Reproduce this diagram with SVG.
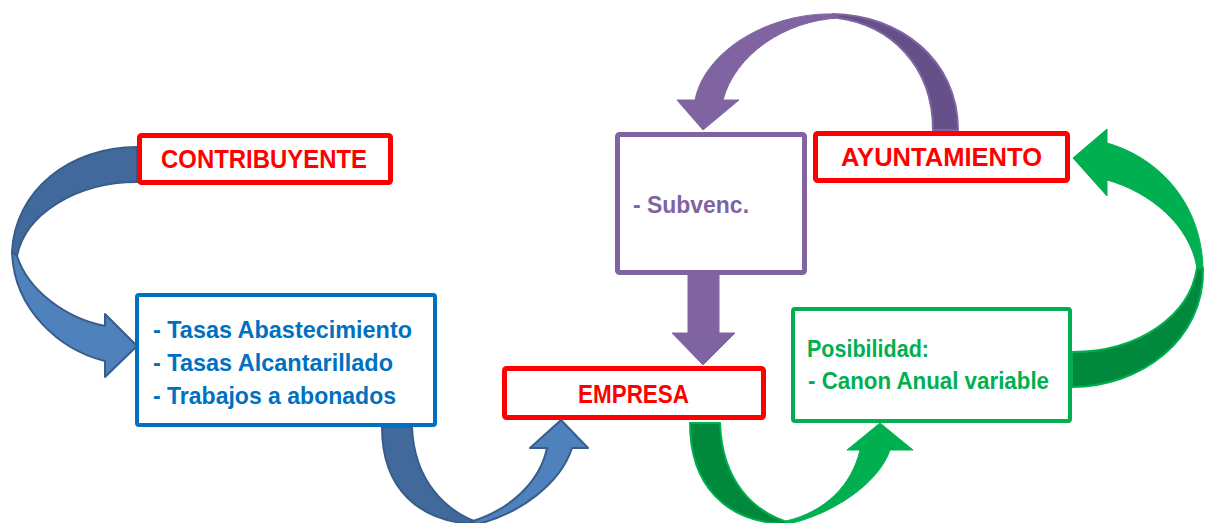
<svg xmlns="http://www.w3.org/2000/svg" width="1205" height="523" viewBox="0 0 1205 523">
<style>
text{font-family:"Liberation Sans",Arial,sans-serif;font-weight:bold}
.red{fill:#fff;stroke:#FF0000;stroke-width:5}
.rt{fill:#FF0000;font-size:26px}
.bluebox{fill:#fff;stroke:#0070C0;stroke-width:4}
.bt{fill:#0070C0;font-size:24px}
.purbox{fill:#fff;stroke:#8064A2;stroke-width:5}
.pt{fill:#8064A2;font-size:24px}
.grnbox{fill:#fff;stroke:#00B050;stroke-width:4}
.gt{fill:#00B050;font-size:24px}
.bl-d{fill:#41699B;stroke:#385D8A;stroke-width:2;stroke-linejoin:round}
.bl-l{fill:#4F81BD;stroke:#385D8A;stroke-width:2;stroke-linejoin:round}
.pu-d{fill:#66508A;stroke:#8064A2;stroke-width:2;stroke-linejoin:round}
.pu-l{fill:#8064A2;stroke:#8064A2;stroke-width:1;stroke-linejoin:round}
.gr-d{fill:#00893D;stroke:#00B050;stroke-width:2;stroke-linejoin:round}
.gr-l{fill:#00B050;stroke:#00B050;stroke-width:1;stroke-linejoin:round}
</style>
<rect width="1205" height="523" fill="#fff"/>
<g id="connectors">
  <!-- CONTRIBUYENTE -> tasas -->
  <path class="bl-d" d="M137,147 C70,147 15,190 12,252 L17,256 C25,215 75,182 137,182 Z"/>
  <path class="bl-l" d="M12,252 C14,310 60,350 105,361 L105,377 L137,346 L105,314 L105,326 C65,318 28,290 17,256 Z"/>
  <!-- tasas -> EMPRESA -->
  <path class="bl-d" d="M382,427 L412,427 C414,480 445,512 482,524 L473,524 C420,521 382,490 382,427 Z"/>
  <path class="bl-l" d="M478,524 C518,514 560,485 572,448 L588,448 L561,420 L530,448 L547,448 C540,482 510,510 470,522 Z"/>
  <!-- AYUNTAMIENTO -> Subvenc -->
  <path class="pu-d" d="M958,130 C958,60 900,15 833,14 L838,18 C890,25 933,65 933,130 Z"/>
  <path class="pu-l" d="M835,14 C770,12 705,50 695,100 L677,100 L703,130 L739,100 L723,100 C735,55 785,20 840,18 Z"/>
  <!-- Subvenc -> EMPRESA -->
  <polygon class="pu-l" points="688,274 719,274 719,333 735,333 703,365 672,333 688,333"/>
  <!-- EMPRESA -> Posibilidad -->
  <path class="gr-d" d="M690,423 L720,423 C722,480 752,513 794,524 L783,524 C725,521 690,485 690,423 Z"/>
  <path class="gr-l" d="M788,524 C830,515 878,485 890,450 L913,450 L880,423 L847,450 L860,450 C852,485 825,512 786,521 Z"/>
  <!-- Posibilidad -> AYUNTAMIENTO -->
  <path class="gr-l" d="M1203,272 C1203,205 1160,158 1107,143 L1107,129 L1073,158 L1107,196 L1107,180 C1150,192 1190,225 1197,268 Z"/>
  <path class="gr-d" d="M1197,268 L1203,268 C1205,340 1140,387 1072,387 L1072,352 C1140,352 1190,315 1197,268 Z"/>
</g>
<g id="contribuyente">
  <rect class="red" x="139.5" y="135.5" width="251" height="47" rx="2"/>
  <text class="rt" x="161" y="168" textLength="206" lengthAdjust="spacingAndGlyphs">CONTRIBUYENTE</text>
</g>
<g id="tasas">
  <rect class="bluebox" x="137" y="295" width="298" height="130" rx="2"/>
  <text class="bt" x="153" y="338" textLength="259" lengthAdjust="spacingAndGlyphs">- Tasas Abastecimiento</text>
  <text class="bt" x="153" y="371" textLength="240" lengthAdjust="spacingAndGlyphs">- Tasas Alcantarillado</text>
  <text class="bt" x="153" y="404" textLength="243" lengthAdjust="spacingAndGlyphs">- Trabajos a abonados</text>
</g>
<g id="empresa">
  <rect class="red" x="504.5" y="368.5" width="259" height="49" rx="2"/>
  <text class="rt" x="578" y="403" textLength="111" lengthAdjust="spacingAndGlyphs">EMPRESA</text>
</g>
<g id="subvenc">
  <rect class="purbox" x="617.5" y="134.5" width="187" height="138" rx="2"/>
  <text class="pt" x="633" y="213" textLength="116" lengthAdjust="spacingAndGlyphs">- Subvenc.</text>
</g>
<g id="ayuntamiento">
  <rect class="red" x="815.5" y="133.5" width="252" height="47" rx="2"/>
  <text class="rt" x="841" y="166" textLength="201" lengthAdjust="spacingAndGlyphs">AYUNTAMIENTO</text>
</g>
<g id="posibilidad">
  <rect class="grnbox" x="793" y="309" width="277" height="112" rx="2"/>
  <text class="gt" x="807" y="357" textLength="122" lengthAdjust="spacingAndGlyphs">Posibilidad:</text>
  <text class="gt" x="808" y="389" textLength="241" lengthAdjust="spacingAndGlyphs">- Canon Anual variable</text>
</g>
</svg>
